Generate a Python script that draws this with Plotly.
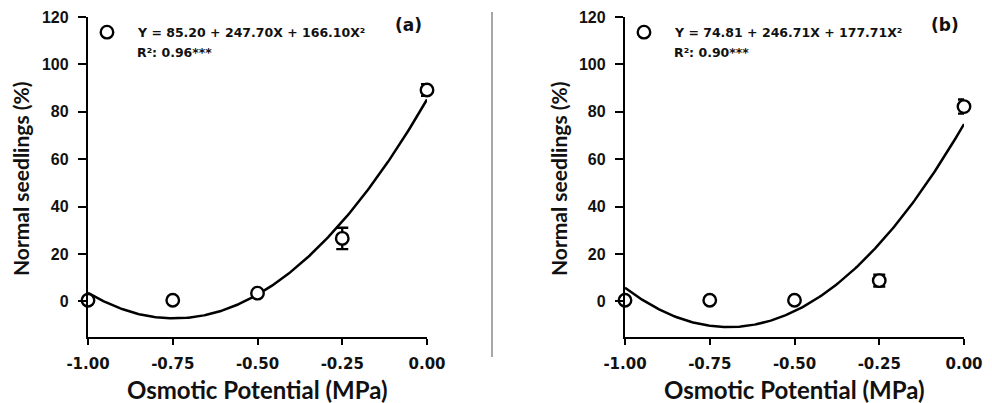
import numpy as np
import plotly.graph_objects as go

# ---- data ----
x_levels = [-1.00, -0.75, -0.50, -0.25, 0.00]
y_a = [0.5, 0.5, 3.5, 26.6, 89.2]
err_a = [0.0, 0.0, 0.5, 4.5, 2.5]
y_b = [0.5, 0.5, 0.5, 8.8, 82.2]
err_b = [0.0, 0.0, 0.0, 2.5, 3.0]
coef_a = [85.20, 247.70, 166.10]
coef_b = [74.81, 246.71, 177.71]
eq_a = "Y = 85.20 + 247.70X + 166.10X²"
r2_a = "R²: 0.96***"
eq_b = "Y = 74.81 + 246.71X + 177.71X²"
r2_b = "R²: 0.90***"
panel_labels = ["(a)", "(b)"]
x_ticks = [-1.00, -0.75, -0.50, -0.25, 0.00]
x_ticktext = ["-1.00", "-0.75", "-0.50", "-0.25", "0.00"]
y_ticks = [0, 20, 40, 60, 80, 100, 120]

W, H = 992, 403
fig = go.Figure()

xtick_font = dict(family="DejaVu Sans", size=15, color="#111", weight="bold")
ytick_font = dict(family="Liberation Sans, Arial", size=16, color="#111", weight="bold")
xtitle_font = dict(family="Lato, Open Sans", size=24, color="#111", weight="bold")
ytitle_font = dict(family="Lato, Open Sans", size=21, color="#111", weight="bold")
ann_font = dict(family="DejaVu Sans", size=12.5, color="#111", weight="bold")

x_dom = [[88 / W, 427 / W], [625 / W, 964 / W]]
y_dom = [1 - 337 / H, 1 - 17 / H]

xfit = np.linspace(-1, 0, 200)
panels = [(y_a, err_a, coef_a, eq_a, r2_a), (y_b, err_b, coef_b, eq_b, r2_b)]

for i, (yv, ev, cf, eq, r2) in enumerate(panels):
    xa = "x" if i == 0 else "x2"
    ya = "y" if i == 0 else "y2"
    yfit = cf[0] + cf[1] * xfit + cf[2] * xfit ** 2
    fig.add_trace(go.Scatter(x=xfit, y=yfit, mode="lines", line=dict(color="black", width=2.5),
                             xaxis=xa, yaxis=ya, showlegend=False, hoverinfo="skip", cliponaxis=False))
    fig.add_trace(go.Scatter(x=x_levels, y=yv, mode="markers",
                             error_y=dict(type="data", array=ev, visible=True, color="black", thickness=2.3, width=6),
                             marker=dict(symbol="circle", size=12.5, color="white", line=dict(color="black", width=2.4)),
                             xaxis=xa, yaxis=ya, showlegend=False, cliponaxis=False))
    # legend marker
    fig.add_trace(go.Scatter(x=[-0.944], y=[113.6], mode="markers",
                             marker=dict(symbol="circle", size=12.5, color="white", line=dict(color="black", width=2.4)),
                             xaxis=xa, yaxis=ya, showlegend=False, cliponaxis=False))
    fig.add_annotation(x=-0.862, y=113.3, xref=xa, yref=ya, text=eq, showarrow=False,
                       xanchor="left", yanchor="middle", font=ann_font)
    fig.add_annotation(x=-0.862, y=105.2, xref=xa, yref=ya, text=r2, showarrow=False,
                       xanchor="left", yanchor="middle", font=ann_font)
    fig.add_annotation(x=-0.056, y=116.5, xref=xa, yref=ya, text=panel_labels[i], showarrow=False,
                       xanchor="center", yanchor="middle",
                       font=dict(family="DejaVu Sans", size=17, color="#111", weight="bold"))

axis_common = dict(showline=True, linecolor="black", linewidth=2.3, ticks="outside",
                   tickwidth=2.3, tickcolor="black", showgrid=False, zeroline=False)

for i in range(2):
    sx = "" if i == 0 else "2"
    fig.update_layout(**{
        f"xaxis{sx}": dict(domain=x_dom[i], range=[-1, 0], tickvals=x_ticks, ticktext=x_ticktext,
                           anchor=f"y{sx}", ticklen=6, ticklabelstandoff=6, tickfont=xtick_font, **axis_common),
        f"yaxis{sx}": dict(domain=y_dom, range=[-15, 120], tickvals=y_ticks,
                           anchor=f"x{sx}", ticklen=8, ticklabelstandoff=6, tickfont=ytick_font, **axis_common),
    })
    cx = (x_dom[i][0] + x_dom[i][1]) / 2
    fig.add_annotation(x=cx, y=1 - 389 / H, xref="paper", yref="paper", text="Osmotic Potential (MPa)",
                       showarrow=False, xanchor="center", yanchor="middle", font=xtitle_font)
    tx = (20 if i == 0 else 558) / W
    fig.add_annotation(x=tx, y=1 - 179 / H, xref="paper", yref="paper", text="Normal seedlings (%)",
                       showarrow=False, textangle=-90, xanchor="center", yanchor="middle", font=ytitle_font)

fig.add_shape(type="line", xref="paper", yref="paper", x0=492 / W, x1=492 / W, y0=1 - 12 / H, y1=1 - 357 / H,
              line=dict(color="#888", width=1.5))

fig.update_layout(width=W, height=H, margin=dict(l=0, r=0, t=0, b=0, autoexpand=False),
                  paper_bgcolor="white", plot_bgcolor="white")

fig.write_html("out.html", config={"displayModeBar": False},
               post_script="document.body.style.margin='0';document.body.style.overflow='hidden';")
